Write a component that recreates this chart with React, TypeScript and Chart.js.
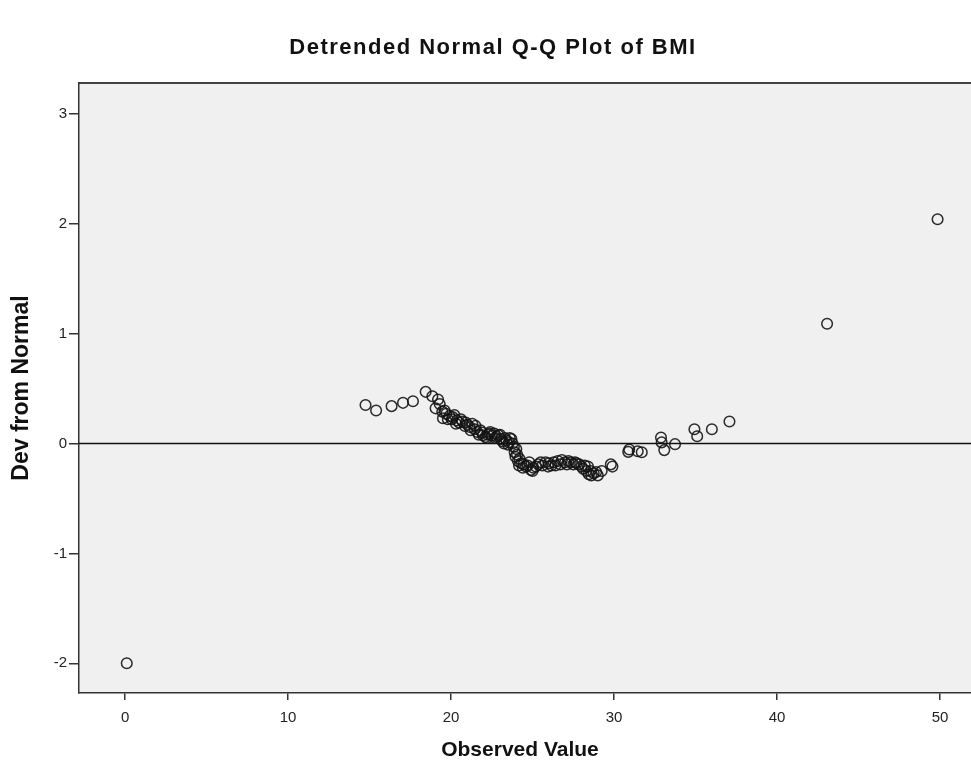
import { useEffect, useRef } from "react";
import { Chart, registerables } from "chart.js";

Chart.register(...registerables);

const chartTitle = "Detrended Normal Q-Q Plot of BMI";
const xAxisTitle = "Observed Value";
const yAxisTitle = "Dev from Normal";

const xTickValues = [0, 10, 20, 30, 40, 50];
const yTickValues = [-2, -1, 0, 1, 2, 3];

const observed = [
  0.1,
  14.75, 15.4, 16.35, 17.05, 17.66, 18.44, 18.85, 19.05, 19.2, 19.3, 19.46, 19.5, 19.7, 19.9,
  20.05, 20.2, 20.35, 20.5, 20.7, 20.85, 21.0, 21.15, 21.3, 21.45, 21.6, 21.7, 21.8, 21.95,
  22.1, 22.25, 22.4, 22.5, 22.65, 22.8, 22.9, 23.05, 23.15, 23.25, 23.4, 23.55, 23.7, 23.77,
  23.85, 23.9, 23.95, 24.0, 24.1, 24.17, 24.3, 24.45, 24.6, 24.8, 24.9, 25.05, 25.2, 25.35,
  25.5, 25.8, 26.0, 26.15, 26.3, 26.55, 26.8, 27.0, 27.2, 27.35, 27.5, 27.7, 27.86, 28.0,
  28.2, 28.4, 28.55, 28.6, 28.75, 28.9, 29.24, 29.8, 29.9,
  19.6, 19.8, 20.1, 20.3, 20.6, 20.9, 21.2, 21.5, 21.9, 22.2, 22.35, 22.7, 23.0, 23.3, 23.5,
  23.6, 24.05, 24.2, 24.4, 24.7, 25.0, 25.6, 25.95, 26.4, 26.7, 27.1, 27.6, 28.1, 28.3, 28.45, 29.0,
  30.87, 30.93, 31.45, 31.7, 32.88, 32.92, 33.08, 33.74, 34.93, 35.1, 36.0, 37.08,
  43.07, 49.85,
];

const deviation = [
  -2.0,
  0.35, 0.3, 0.34, 0.37, 0.385, 0.47, 0.43, 0.32, 0.4, 0.36, 0.29, 0.23, 0.27, 0.25,
  0.22, 0.26, 0.21, 0.19, 0.2, 0.16, 0.17, 0.15, 0.18, 0.13, 0.105, 0.08, 0.12, 0.075,
  0.06, 0.08, 0.105, 0.07, 0.09, 0.06, 0.075, 0.04, 0.02, 0.0, 0.03, 0.01, 0.04, 0.0,
  -0.03, -0.08, -0.12, -0.05, -0.16, -0.2, -0.18, -0.19, -0.21, -0.17, -0.24, -0.22, -0.21, -0.19,
  -0.17, -0.17, -0.18, -0.2, -0.17, -0.16, -0.15, -0.17, -0.16, -0.17, -0.19, -0.18, -0.19, -0.21,
  -0.2, -0.21, -0.25, -0.29, -0.27, -0.26, -0.25, -0.19, -0.21,
  0.3, 0.22, 0.24, 0.18, 0.22, 0.19, 0.12, 0.16, 0.1, 0.05, 0.09, 0.05, 0.08, 0.05, -0.01,
  0.05, -0.1, -0.14, -0.22, -0.2, -0.25, -0.2, -0.21, -0.2, -0.19, -0.19, -0.17, -0.23, -0.25, -0.28, -0.29,
  -0.076, -0.055, -0.07, -0.08, 0.055, 0.01, -0.06, -0.006, 0.13, 0.066, 0.13, 0.2,
  1.09, 2.04,
];

const X_MIN = -2.83;
const X_MAX = 51.9;
const Y_MIN = -2.27;
const Y_MAX = 3.28;

const FONT = '"Liberation Sans", Arial, sans-serif';

export default function App() {
  const ref = useRef<HTMLCanvasElement>(null);

  useEffect(() => {
    if (!ref.current) return;

    const plotBg = {
      id: "plotBg",
      beforeDraw(chart: any) {
        const { ctx, chartArea: a } = chart;
        ctx.save();
        ctx.fillStyle = "#f0f0f0";
        ctx.fillRect(a.left, a.top, a.right - a.left, a.bottom - a.top);
        ctx.strokeStyle = "#444444";
        ctx.lineWidth = 2;
        ctx.beginPath();
        ctx.moveTo(a.left, a.top);
        ctx.lineTo(a.right, a.top);
        ctx.stroke();
        ctx.restore();
      },
    };

    const zeroLine = {
      id: "zeroLine",
      beforeDatasetsDraw(chart: any) {
        const { ctx, chartArea: a, scales } = chart;
        const y = scales.y.getPixelForValue(0);
        ctx.save();
        ctx.strokeStyle = "#111111";
        ctx.lineWidth = 1.5;
        ctx.beginPath();
        ctx.moveTo(a.left, y);
        ctx.lineTo(a.right, y);
        ctx.stroke();
        ctx.restore();
      },
    };

    const texts = {
      id: "texts",
      afterDraw(chart: any) {
        const { ctx } = chart;
        ctx.save();
        ctx.fillStyle = "#111111";
        ctx.textAlign = "center";
        ctx.textBaseline = "middle";
        ctx.font = `bold 22px ${FONT}`;
        try {
          (ctx as any).letterSpacing = "1.5px";
        } catch (e) {
          /* ignore */
        }
        ctx.fillText(chartTitle, 493, 48);
        try {
          (ctx as any).letterSpacing = "0px";
        } catch (e) {
          /* ignore */
        }
        ctx.font = `bold 21px ${FONT}`;
        ctx.fillText(xAxisTitle, 520, 750);
        ctx.restore();
      },
    };

    const chart = new Chart(ref.current, {
      type: "scatter",
      data: {
        datasets: [
          {
            data: observed.map((x, i) => ({ x, y: deviation[i] })),
            pointStyle: "circle",
            pointRadius: 5.3,
            pointHoverRadius: 5.3,
            borderWidth: 1.5,
            borderColor: "rgba(20,20,20,0.9)",
            backgroundColor: "rgba(0,0,0,0)",
          },
        ],
      },
      options: {
        responsive: false,
        animation: false,
        events: [],
        layout: { autoPadding: false, padding: { top: 83, left: 0, right: 0, bottom: 0 } },
        plugins: {
          legend: { display: false },
          tooltip: { enabled: false },
          title: { display: false },
        },
        scales: {
          x: {
            type: "linear",
            min: X_MIN,
            max: X_MAX,
            afterBuildTicks: (s: any) => {
              s.ticks = xTickValues.map((value) => ({ value }));
            },
            afterFit: (s: any) => {
              s.height = 74;
            },
            grid: {
              drawOnChartArea: false,
              drawTicks: true,
              tickLength: 7,
              color: "#333333",
              lineWidth: 1.5,
            },
            border: { display: true, color: "#333333", width: 1.5 },
            ticks: {
              font: { family: FONT, size: 15 },
              color: "#222222",
              padding: 9,
            },
            title: { display: false },
          },
          y: {
            type: "linear",
            min: Y_MIN,
            max: Y_MAX,
            afterBuildTicks: (s: any) => {
              s.ticks = yTickValues.map((value) => ({ value }));
            },
            afterFit: (s: any) => {
              s.width = 79;
            },
            grid: {
              drawOnChartArea: false,
              drawTicks: true,
              tickLength: 10,
              color: "#333333",
              lineWidth: 1.5,
            },
            border: { display: true, color: "#333333", width: 1.5 },
            ticks: {
              font: { family: FONT, size: 15 },
              color: "#222222",
              padding: 2,
            },
            title: {
              display: true,
              text: yAxisTitle,
              font: { family: FONT, size: 23, weight: "bold" },
              color: "#111111",
              padding: { top: 8, bottom: 4 },
            },
          },
        },
      },
      plugins: [plotBg, zeroLine, texts],
    });

    return () => chart.destroy();
  }, []);

  return (
    <div style={{ position: "fixed", left: 0, top: 0, width: 971, height: 767, background: "#ffffff" }}>
      <canvas ref={ref} width={971} height={767} style={{ display: "block" }} />
    </div>
  );
}
